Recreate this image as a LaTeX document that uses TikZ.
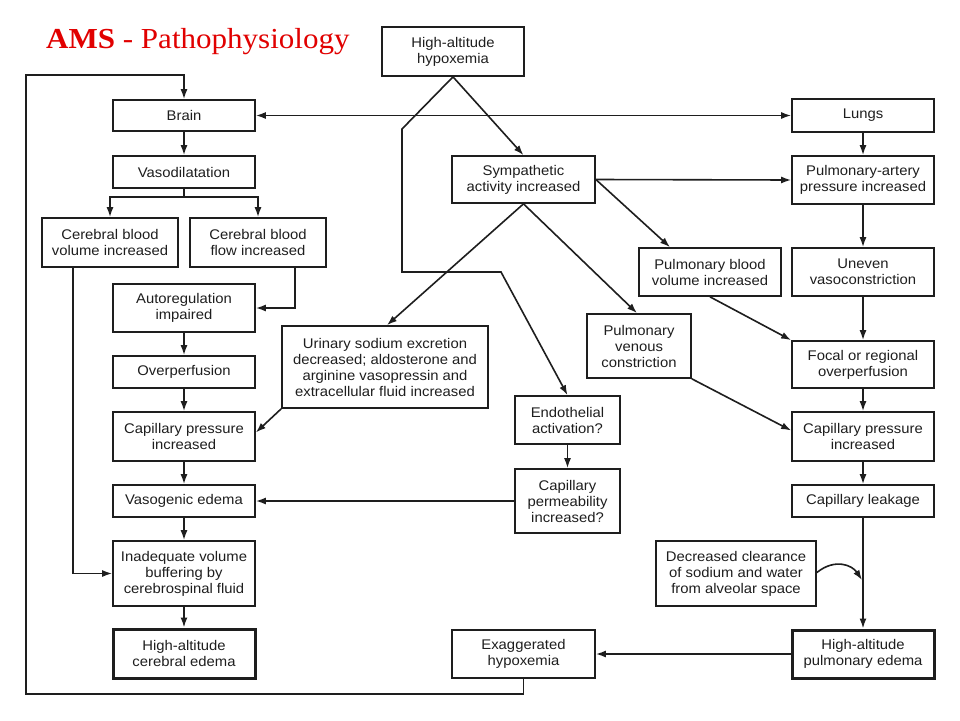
\documentclass[tikz,border=0pt]{standalone}
\usepackage{fontspec}
\setmainfont{Liberation Sans}
\newfontfamily\boxfont[FakeStretch=1.06]{Liberation Sans}
\newfontfamily\titlefont[FakeStretch=1.07]{Liberation Serif}
\usetikzlibrary{arrows.meta}
\definecolor{titlered}{RGB}{225,0,0}
\definecolor{ink}{RGB}{30,30,30}
\begin{document}
\begin{tikzpicture}[x=1pt,y=-1pt,
  box/.style={draw=ink, line width=1.7pt, fill=white, align=center, inner sep=0pt,
    font=\boxfont\fontsize{14}{16}\selectfont, text=ink},
  thickbox/.style={box, line width=3pt},
  conn/.style={draw=ink, line width=1.6pt},
  arr/.style={conn, -{Latex[length=10pt,width=7pt]}},
  darr/.style={conn, {Latex[length=10pt,width=7pt]}-{Latex[length=10pt,width=7pt]}}]
\useasboundingbox (0,0) rectangle (960,720);
\fill[white] (0,0) rectangle (960,720);

% title
\node[anchor=base west, inner sep=0pt, text=titlered,
  font=\titlefont\fontsize{29}{32}\selectfont] (title) at (46,48) {\textbf{AMS} - Pathophysiology};

% nodes
\node[box, minimum width=142pt, minimum height=49pt] (hah) at (453,51.5) {High-altitude\\hypoxemia};
\node[box, minimum width=142pt, minimum height=31pt] (brain) at (184,115.5) {Brain};
\node[box, minimum width=142pt, minimum height=32pt] (vaso) at (184,172) {Vasodilatation};
\node[box, minimum width=136pt, minimum height=49pt] (cbv) at (110,242.5) {Cerebral blood\\volume increased};
\node[box, minimum width=136pt, minimum height=49pt] (cbf) at (258,242.5) {Cerebral blood\\flow increased};
\node[box, minimum width=142pt, minimum height=48pt] (auto) at (184,308) {Autoregulation\\impaired};
\node[box, minimum width=142pt, minimum height=32pt] (over) at (184,372) {Overperfusion};
\node[box, minimum width=142pt, minimum height=49pt] (cpl) at (184,436.5) {Capillary pressure\\increased};
\node[box, minimum width=142pt, minimum height=32pt] (vedema) at (184,501) {Vasogenic edema};
\node[box, minimum width=142pt, minimum height=65pt] (inad) at (184,573.5) {Inadequate volume\\buffering by\\cerebrospinal fluid};
\node[thickbox, minimum width=142pt, minimum height=49pt] (hace) at (184,653.5) {High-altitude\\cerebral edema};

\node[box, minimum width=143pt, minimum height=47pt] (symp) at (523.5,179.5) {Sympathetic\\activity increased};
\node[box, minimum width=206pt, minimum height=82pt] (urin) at (385,367) {Urinary sodium excretion\\decreased; aldosterone and\\arginine vasopressin and\\extracellular fluid increased};
\node[box, minimum width=105pt, minimum height=48pt] (endo) at (567.5,420) {Endothelial\\activation?};
\node[box, minimum width=105pt, minimum height=64pt] (cperm) at (567.5,501) {Capillary\\permeability\\increased?};
\node[box, minimum width=104pt, minimum height=64pt] (pvc) at (639,346) {Pulmonary\\venous\\constriction};
\node[box, minimum width=142pt, minimum height=48pt] (pbv) at (710,272) {Pulmonary blood\\volume increased};

\node[box, minimum width=142pt, minimum height=33pt] (lungs) at (863,115.5) {Lungs};
\node[box, minimum width=142pt, minimum height=48pt] (pap) at (863,180) {Pulmonary-artery\\pressure increased};
\node[box, minimum width=142pt, minimum height=48pt] (uneven) at (863,272) {Uneven\\vasoconstriction};
\node[box, minimum width=142pt, minimum height=47pt] (focal) at (863,364.5) {Focal or regional\\overperfusion};
\node[box, minimum width=142pt, minimum height=49pt] (cpr) at (863,436.5) {Capillary pressure\\increased};
\node[box, minimum width=142pt, minimum height=32pt] (leak) at (863,501) {Capillary leakage};
\node[box, minimum width=160pt, minimum height=65pt] (dc) at (736,573.5) {Decreased clearance\\of sodium and water\\from alveolar space};
\node[thickbox, minimum width=142pt, minimum height=48pt] (hape) at (863,654) {High-altitude\\pulmonary edema};
\node[box, minimum width=143pt, minimum height=48pt] (exag) at (523.5,654) {Exaggerated\\hypoxemia};

% helper coordinates
\coordinate (hb1) at (402,129);
\coordinate (hb2) at (402,272);
\coordinate (hb3) at (501,272);
\coordinate (loopA) at (26,694);
\coordinate (loopB) at (26,75);
\coordinate (vsplit) at (184,197);
\coordinate (dctip) at (862,580);

% connectors: top
\draw[arr] (hah.south) -- (symp.north);
\draw[arr] (hah.south) -- (hb1) -- (hb2) -- (hb3) -- (endo.north);
\draw[arr] (exag.south) |- (loopA) -- (loopB) -| (brain.north);
\draw[darr] (brain.east) -- (lungs.west);

% left column
\draw[arr] (brain) -- (vaso);
\draw[conn] (vaso.south) -- (vsplit);
\draw[arr] (vsplit) -| (cbv.north);
\draw[arr] (vsplit) -| (cbf.north);
\draw[arr] ([xshift=37pt]cbf.south) |- (auto.east);
\draw[arr] ([xshift=-37pt]cbv.south) |- (inad.west);
\draw[arr] (auto) -- (over);
\draw[arr] (over) -- (cpl);
\draw[arr] (cpl) -- (vedema);
\draw[arr] (vedema) -- (inad);
\draw[arr] (inad) -- (hace);

% middle
\draw[arr] (symp.south) -- ([xshift=2pt]urin.north);
\draw[arr] (symp.south) -- ([xshift=-2pt]pvc.north);
\draw[arr] (symp.east) -- (pap.west);
\draw[arr] (symp.east) -- ([xshift=-40pt]pbv.north);
\draw[arr] (urin.south west) -- ([yshift=4pt]cpl.east);
\draw[arr] (endo) -- (cperm);
\draw[arr] (cperm.west) -- (vedema.east);

% right column
\draw[arr] (lungs) -- (pap);
\draw[arr] (pap) -- (uneven);
\draw[arr] (uneven) -- (focal);
\draw[arr] (focal) -- (cpr);
\draw[arr] (cpr) -- (leak);
\draw[arr] (leak) -- (hape);
\draw[arr] (pbv.south) -- (focal.north west);
\draw[arr] (pvc.south east) -- ([yshift=6pt]cpr.west);
\draw[arr] ([yshift=1pt]dc.east) .. controls (835,558) and (852,565) .. (dctip);
\draw[arr] (hape) -- (exag);
\end{tikzpicture}
\end{document}
